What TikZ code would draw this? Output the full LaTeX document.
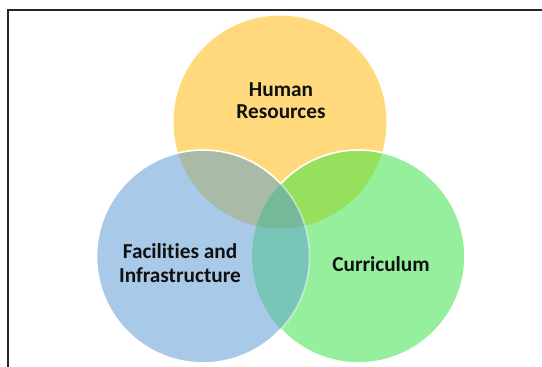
\documentclass[tikz,border=0pt]{standalone}
\usepackage{fontspec}
\setmainfont[Ligatures=NoCommon]{Carlito}
\definecolor{cY}{HTML}{FFD97C}
\definecolor{cB}{HTML}{A9C9E9}
\definecolor{cG}{HTML}{95EF9C}
\definecolor{cYB}{HTML}{A9BAA6}
\definecolor{cYG}{HTML}{97E05D}
\definecolor{cBG}{HTML}{77C6B7}
\definecolor{cYBG}{HTML}{76B99A}
\definecolor{frameC}{HTML}{262626}
\definecolor{txt}{HTML}{101010}
\begin{document}
\begin{tikzpicture}[x=1pt,y=-1pt,
  lbl/.style={font=\fontsize{21.3}{22}\selectfont\bfseries, text=txt, inner sep=0pt, anchor=base},
  edge/.style={draw=white, line width=1.6pt}]
\useasboundingbox (0,0) rectangle (542,367);
\coordinate (Y) at (280,122);
\coordinate (B) at (203,256.5);
\coordinate (G) at (358.5,256.5);
\def\R{106.5pt}
% base fills
\fill[cY] (Y) circle[radius=\R];
\fill[cG] (G) circle[radius=\R];
\fill[cB] (B) circle[radius=\R];
% overlaps
\begin{scope}\clip (Y) circle[radius=\R]; \fill[cYB] (B) circle[radius=\R];\end{scope}
\begin{scope}\clip (Y) circle[radius=\R]; \fill[cYG] (G) circle[radius=\R];\end{scope}
\begin{scope}\clip (B) circle[radius=\R]; \fill[cBG] (G) circle[radius=\R];\end{scope}
\begin{scope}\clip (Y) circle[radius=\R]; \clip (B) circle[radius=\R]; \fill[cYBG] (G) circle[radius=\R];\end{scope}
% outlines
\begin{scope}[even odd rule]
  \clip (-20,-20) rectangle (570,390) (B) circle[radius=\R];
  \path[edge] (G) circle[radius=\R];
\end{scope}
\begin{scope}[even odd rule]
  \clip (-20,-20) rectangle (570,390) (G) circle[radius=\R];
  \path[edge] (B) circle[radius=\R];
\end{scope}
\begin{scope}
  \clip (G) circle[radius=\R];
  \path[edge, draw opacity=0.5] (B) circle[radius=\R];
\end{scope}
% frame
\draw[frameC, line width=2pt] (7.8,367) -- (7.8,10.3) -- (542,10.3);
% labels
\node[lbl] (hr1) at (281,96) {Human};
\node[lbl] (hr2) at (281,118) {Resources};
\node[lbl] (fi1) at (180,258) {Facilities and};
\node[lbl] (fi2) at (180,282) {Infrastructure};
\node[lbl] (cu) at (381,271) {Curriculum};
\end{tikzpicture}
\end{document}
